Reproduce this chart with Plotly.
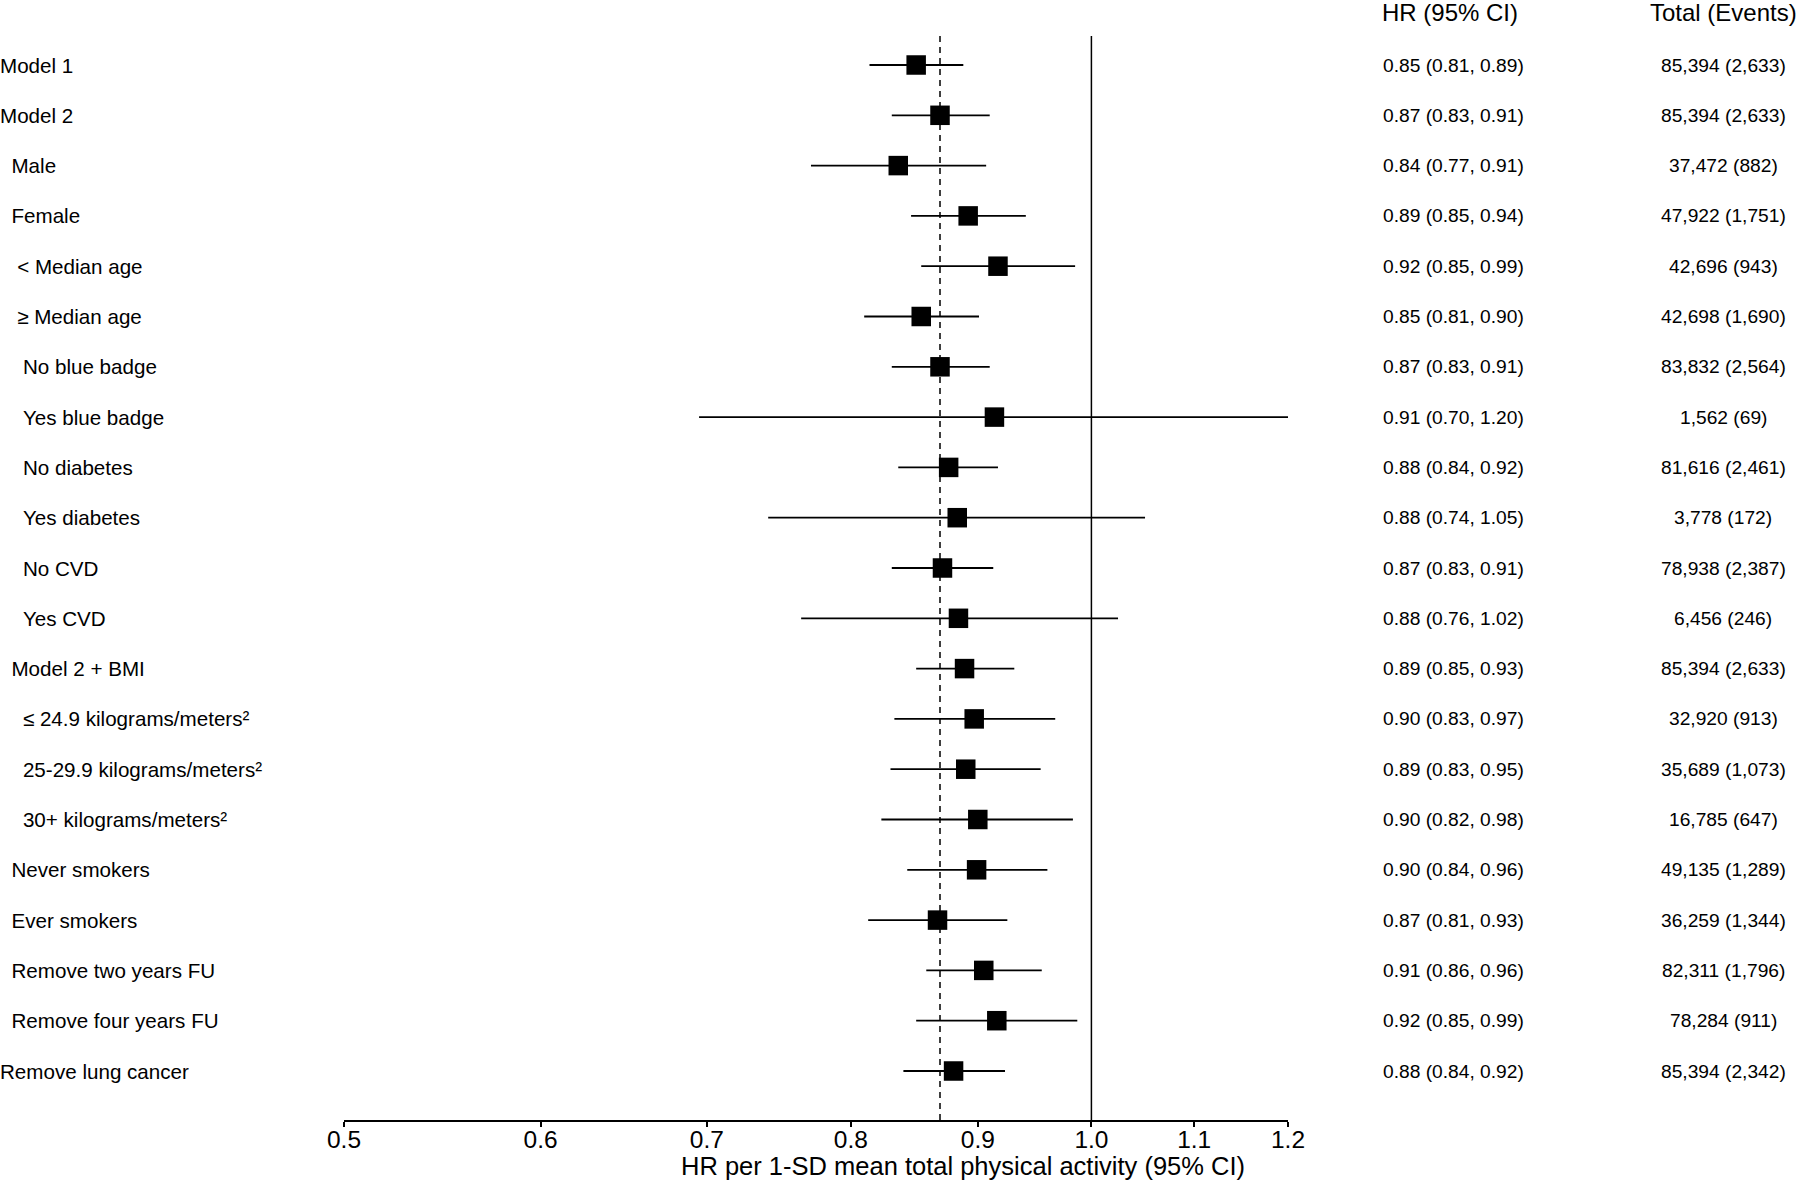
import math
import plotly.graph_objects as go

# Row labels (leading non-breaking spaces give the indent used in the original table)
labels = [
    "Model 1",
    "Model 2",
    "\u00a0\u00a0Male",
    "\u00a0\u00a0Female",
    "\u00a0\u00a0\u00a0< Median age",
    "\u00a0\u00a0\u00a0≥ Median age",
    "\u00a0\u00a0\u00a0\u00a0No blue badge",
    "\u00a0\u00a0\u00a0\u00a0Yes blue badge",
    "\u00a0\u00a0\u00a0\u00a0No diabetes",
    "\u00a0\u00a0\u00a0\u00a0Yes diabetes",
    "\u00a0\u00a0\u00a0\u00a0No CVD",
    "\u00a0\u00a0\u00a0\u00a0Yes CVD",
    "\u00a0\u00a0Model 2 + BMI",
    "\u00a0\u00a0\u00a0\u00a0≤ 24.9 kilograms/meters²",
    "\u00a0\u00a0\u00a0\u00a025-29.9 kilograms/meters²",
    "\u00a0\u00a0\u00a0\u00a030+ kilograms/meters²",
    "\u00a0\u00a0Never smokers",
    "\u00a0\u00a0Ever smokers",
    "\u00a0\u00a0Remove two years FU",
    "\u00a0\u00a0Remove four years FU",
    "Remove lung cancer",
]

# Point estimates and CI limits
hr = [0.850, 0.869, 0.836, 0.892, 0.917, 0.854, 0.869, 0.914, 0.876, 0.883, 0.871,
      0.884, 0.889, 0.897, 0.890, 0.900, 0.899, 0.867, 0.905, 0.916, 0.880]
ci_low = [0.814, 0.831, 0.771, 0.846, 0.854, 0.810, 0.831, 0.695, 0.836, 0.741, 0.831,
          0.764, 0.850, 0.833, 0.830, 0.823, 0.843, 0.813, 0.858, 0.850, 0.840]
ci_high = [0.888, 0.910, 0.907, 0.941, 0.985, 0.901, 0.910, 1.201, 0.917, 1.051, 0.913,
           1.025, 0.931, 0.967, 0.954, 0.983, 0.960, 0.925, 0.955, 0.987, 0.923]

# Text columns on the right
hr_text = [
    "0.85 (0.81, 0.89)", "0.87 (0.83, 0.91)", "0.84 (0.77, 0.91)", "0.89 (0.85, 0.94)",
    "0.92 (0.85, 0.99)", "0.85 (0.81, 0.90)", "0.87 (0.83, 0.91)", "0.91 (0.70, 1.20)",
    "0.88 (0.84, 0.92)", "0.88 (0.74, 1.05)", "0.87 (0.83, 0.91)", "0.88 (0.76, 1.02)",
    "0.89 (0.85, 0.93)", "0.90 (0.83, 0.97)", "0.89 (0.83, 0.95)", "0.90 (0.82, 0.98)",
    "0.90 (0.84, 0.96)", "0.87 (0.81, 0.93)", "0.91 (0.86, 0.96)", "0.92 (0.85, 0.99)",
    "0.88 (0.84, 0.92)",
]
total_events = [
    "85,394 (2,633)", "85,394 (2,633)", "37,472 (882)", "47,922 (1,751)",
    "42,696 (943)", "42,698 (1,690)", "83,832 (2,564)", "1,562 (69)",
    "81,616 (2,461)", "3,778 (172)", "78,938 (2,387)", "6,456 (246)",
    "85,394 (2,633)", "32,920 (913)", "35,689 (1,073)", "16,785 (647)",
    "49,135 (1,289)", "36,259 (1,344)", "82,311 (1,796)", "78,284 (911)",
    "85,394 (2,342)",
]

tick_vals = [0.5, 0.6, 0.7, 0.8, 0.9, 1.0, 1.1, 1.2]
tick_text = ["0.5", "0.6", "0.7", "0.8", "0.9", "1.0", "1.1", "1.2"]

FONT = "Liberation Sans, Arial, sans-serif"
rows = list(range(len(labels)))

fig = go.Figure()

fig.add_trace(go.Scatter(
    x=hr,
    y=rows,
    mode="markers",
    marker=dict(symbol="square", size=19.5, color="black"),
    error_x=dict(
        type="data",
        symmetric=False,
        array=[h - m for h, m in zip(ci_high, hr)],
        arrayminus=[m - l for m, l in zip(hr, ci_low)],
        color="black",
        thickness=1.8,
        width=0,
    ),
    hoverinfo="skip",
    showlegend=False,
))

# Null line and reference line at the Model 2 estimate
fig.add_shape(type="line", xref="x", yref="paper", x0=1.0, x1=1.0, y0=0, y1=1,
              line=dict(color="black", width=1.5))
fig.add_shape(type="line", xref="x", yref="paper", x0=hr[1], x1=hr[1], y0=0, y1=1,
              line=dict(color="black", width=1.5, dash="6px,5px"))

# plot area spans x pixels 344..1288, y pixels 36..1120
left, right, top, bottom = 344, 1288, 36, 1120
W, H = 1800, 1183
pw = right - left
ph = bottom - top

def px_x(p):
    return (p - left) / pw

def px_y(p):
    return (bottom - p) / ph

annotations = []
for i in rows:
    annotations.append(dict(x=px_x(-2), y=i, xref="paper", yref="y", text=labels[i],
                            xanchor="left", yanchor="middle", showarrow=False,
                            font=dict(size=20.6, color="black", family=FONT)))
    annotations.append(dict(x=px_x(1381), y=i, xref="paper", yref="y", text=hr_text[i],
                            xanchor="left", yanchor="middle", showarrow=False,
                            font=dict(size=19.2, color="black", family=FONT)))
    annotations.append(dict(x=px_x(1723), y=i, xref="paper", yref="y", text=total_events[i],
                            xanchor="center", yanchor="middle", showarrow=False,
                            font=dict(size=19.2, color="black", family=FONT)))

# column headers
annotations.append(dict(x=px_x(1380), y=px_y(12), xref="paper", yref="paper",
                        text="HR (95% CI)", xanchor="left", yanchor="middle",
                        showarrow=False, font=dict(size=24, color="black", family=FONT)))
annotations.append(dict(x=px_x(1723), y=px_y(12), xref="paper", yref="paper",
                        text="Total (Events)", xanchor="center", yanchor="middle",
                        showarrow=False, font=dict(size=24, color="black", family=FONT)))
# axis title (sits off-centre in the original)
annotations.append(dict(x=px_x(963), y=px_y(1166), xref="paper", yref="paper",
                        text="HR per 1-SD mean total physical activity (95% CI)",
                        xanchor="center", yanchor="middle", showarrow=False,
                        font=dict(size=25.5, color="black", family=FONT)))

row_px = 50.3
fig.update_layout(
    width=W,
    height=H,
    margin=dict(l=left, r=W - right, t=top, b=H - bottom, pad=0),
    paper_bgcolor="white",
    plot_bgcolor="white",
    font=dict(family=FONT, color="black"),
    annotations=annotations,
    xaxis=dict(
        type="log",
        range=[math.log10(0.5), math.log10(1.2)],  # log axis range is in log10 units
        autorange=False,
        tickvals=tick_vals,
        ticktext=tick_text,
        ticks="outside",
        ticklen=5,
        tickwidth=1.5,
        tickcolor="black",
        ticklabelstandoff=-8,
        showline=True,
        linecolor="black",
        linewidth=2,
        showgrid=False,
        zeroline=False,
        tickfont=dict(size=24.5, color="black", family=FONT),
    ),
    yaxis=dict(
        range=[20 + 49 / row_px, -29 / row_px],
        autorange=False,
        visible=False,
        showgrid=False,
        zeroline=False,
    ),
)

# page margin off so the figure sits at the window corner, no modebar
fig.write_html("out.html", config={"displayModeBar": False},
               post_script="document.body.style.margin='0';")
